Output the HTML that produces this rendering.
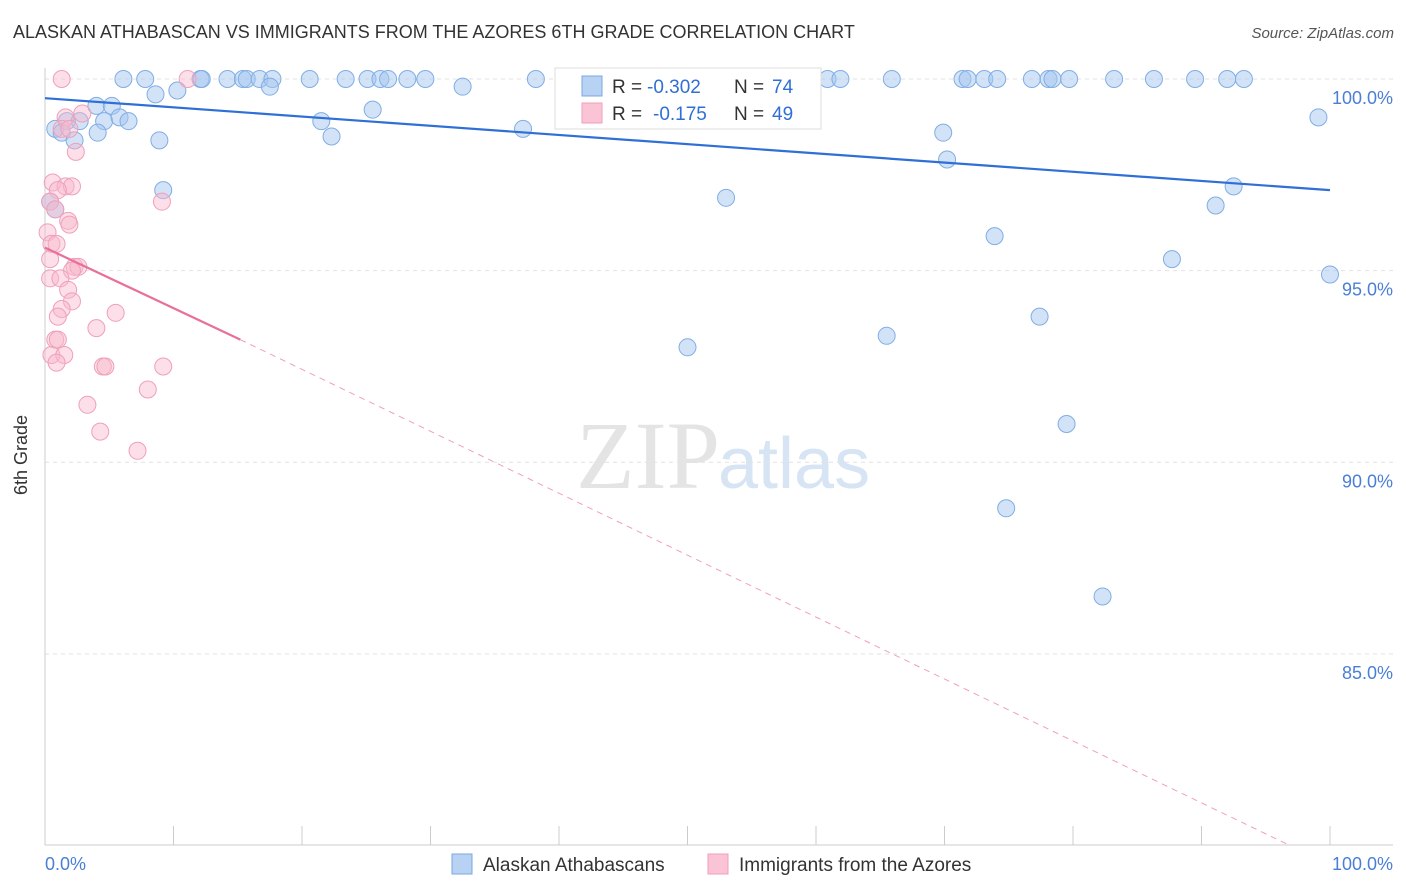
<!DOCTYPE html>
<html><head><meta charset="utf-8"><style>
body{margin:0;background:#fff;font-family:"Liberation Sans",sans-serif;}
#wrap{position:relative;width:1406px;height:892px;overflow:hidden;}
.t{position:absolute;white-space:nowrap;}
</style></head><body>
<div id="wrap">
<div class="t" style="left:13px;top:22px;font-size:18px;color:#333;">ALASKAN ATHABASCAN VS IMMIGRANTS FROM THE AZORES 6TH GRADE CORRELATION CHART</div>
<div class="t" style="right:12px;top:25px;font-size:15px;color:#555;font-style:italic;">Source: ZipAtlas.com</div>
<svg id="svg" width="1406" height="892" style="position:absolute;left:0;top:0">
<text x="720" y="488" text-anchor="end" font-family="Liberation Serif" font-size="96" fill="#e4e4e4">ZIP</text>
<text x="718" y="488" font-family="Liberation Sans" font-size="72" fill="#d6e4f4">atlas</text>
<g id="grid"></g><g id="marks"></g>
<text x="27" y="455" transform="rotate(-90 27 455)" text-anchor="middle" font-size="18" fill="#333">6th Grade</text>
<text x="45" y="870" font-size="18" fill="#4a7fd4">0.0%</text>
<text x="1393" y="870" text-anchor="end" font-size="18" fill="#4a7fd4">100.0%</text>
<g font-size="19">
<rect x="555" y="68" width="266" height="61" fill="#fff" stroke="#ddd"/>
<rect x="582" y="76" width="20" height="20" fill="#b8d2f4" stroke="#7aa8e0"/>
<rect x="582" y="103" width="20" height="20" fill="#fac4d4" stroke="#f0a0b8"/>
<text x="612" y="93" fill="#333">R =</text>
<text x="647" y="93" fill="#2f6fd6">-0.302</text>
<text x="734" y="93" fill="#333">N =</text>
<text x="772" y="93" fill="#2f6fd6">74</text>
<text x="612" y="120" fill="#333">R =</text>
<text x="653" y="120" fill="#2f6fd6">-0.175</text>
<text x="734" y="120" fill="#333">N =</text>
<text x="772" y="120" fill="#2f6fd6">49</text>
</g>
<g>
<rect x="452" y="854" width="20" height="20" fill="#b8d2f4" stroke="#7aa8e0"/>
<text x="483" y="871" font-size="19" fill="#333">Alaskan Athabascans</text>
<rect x="708" y="854" width="20" height="20" fill="#fac4d4" stroke="#f0a0b8"/>
<text x="739" y="871" font-size="19" fill="#333">Immigrants from the Azores</text>
</g>
</svg>
</div>
<script>
const yTicks=[100,95,90,85];
const blueX=[6.1,7.8,12.1,12.2,14.2,15.4,15.7,16.7,17.7,20.6,23.4,25.1,26.1,26.7,28.2,29.6,38.2,41.2,60.9,61.9,65.9,71.4,71.8,73.1,74.1,76.8,78.1,78.4,79.7,83.2,86.3,89.5,92.0,93.3,8.6,10.3,17.5,32.5,0.8,1.7,2.7,4.0,5.2,4.6,5.8,6.5,1.3,2.3,4.1,8.9,9.2,21.5,22.3,25.5,37.2,53.0,50.0,57.7,69.9,70.2,73.9,77.4,79.5,65.5,74.8,82.3,87.7,91.1,92.5,99.1,100,0.4,0.8];
const blueY=[100,100,100,100,100,100,100,100,100,100,100,100,100,100,100,100,100,100,100,100,100,100,100,100,100,100,100,100,100,100,100,100,100,100,99.6,99.7,99.8,99.8,98.7,98.9,98.9,99.3,99.3,98.9,99.0,98.9,98.6,98.4,98.6,98.4,97.1,98.9,98.5,99.2,98.7,96.9,93.0,99.1,98.6,97.9,95.9,93.8,91.0,93.3,88.8,86.5,95.3,96.7,97.2,99.0,94.9,96.8,96.6];
const pinkX=[1.3,11.1,2.9,1.6,1.3,1.9,2.4,0.6,1.6,2.1,1.0,0.4,9.1,0.8,1.8,1.9,0.2,0.5,0.9,0.4,2.3,2.6,2.1,0.4,1.2,1.8,2.1,1.3,1.0,5.5,4.0,0.8,1.0,0.5,1.5,0.9,4.5,4.7,9.2,8.0,3.3,4.3,7.2];
const pinkY=[100,100,99.1,99.0,98.7,98.7,98.1,97.3,97.2,97.2,97.1,96.8,96.8,96.6,96.3,96.2,96.0,95.7,95.7,95.3,95.1,95.1,95.0,94.8,94.8,94.5,94.2,94.0,93.8,93.9,93.5,93.2,93.2,92.8,92.8,92.6,92.5,92.5,92.5,91.9,91.5,90.8,90.3];
const blueTrend=[[0,99.5],[100,97.1]];
const pinkTrend=[[0,95.6],[15.2,93.2],[96.9,80.0]];
const NS="http://www.w3.org/2000/svg";
const X=v=>45+v*12.85, Y=v=>79+(100-v)*38.33;
function mk(t,a,p){const e=document.createElementNS(NS,t);for(const k in a)e.setAttribute(k,a[k]);p.appendChild(e);return e;}
const grid=document.getElementById('grid'), marks=document.getElementById('marks');
yTicks.forEach(v=>{
 const l=mk('line',{x1:45,x2:1393,y1:Y(v),y2:Y(v),stroke:'#e2e2e2','stroke-dasharray':'4,4'},grid);
 
 
 const t=mk('text',{x:1393,y:Y(v)+25,'text-anchor':'end','font-size':18,fill:'#4a7fd4','font-family':'Liberation Sans'},grid);
 t.textContent=v.toFixed(1)+'%';
 
 
});
mk('line',{x1:45,x2:45,y1:68,y2:845,stroke:'#ccc'},grid);
mk('line',{x1:45,x2:1393,y1:845,y2:845,stroke:'#ccc'},grid);
for(let i=0;i<=10;i++){mk('line',{x1:X(i*10),x2:X(i*10),y1:826,y2:845,stroke:'#ccc'},grid);}
blueX.forEach((x,i)=>{
 const c=mk('circle',{cx:X(x),cy:Y(blueY[i]),r:8.5,fill:'rgba(165,198,240,0.5)',stroke:'#80aee4','stroke-width':1},marks);
 
 
});
pinkX.forEach((x,i)=>{
 const c=mk('circle',{cx:X(x),cy:Y(pinkY[i]),r:8.5,fill:'rgba(248,185,205,0.45)',stroke:'#f0a0b8','stroke-width':1},marks);
 
 
});
const bt=mk('line',{x1:X(blueTrend[0][0]),y1:Y(blueTrend[0][1]),x2:X(blueTrend[1][0]),y2:Y(blueTrend[1][1]),stroke:'#2f6fd6','stroke-width':2.2},marks);


const pt=mk('line',{x1:X(pinkTrend[0][0]),y1:Y(pinkTrend[0][1]),x2:X(pinkTrend[1][0]),y2:Y(pinkTrend[1][1]),stroke:'#e8709a','stroke-width':2.2},marks);


const pd=mk('line',{x1:X(pinkTrend[1][0]),y1:Y(pinkTrend[1][1]),x2:X(pinkTrend[2][0]),y2:Y(pinkTrend[2][1]),stroke:'#f0a0b8','stroke-width':1,'stroke-dasharray':'6,5'},marks);


</script>
</body></html>
